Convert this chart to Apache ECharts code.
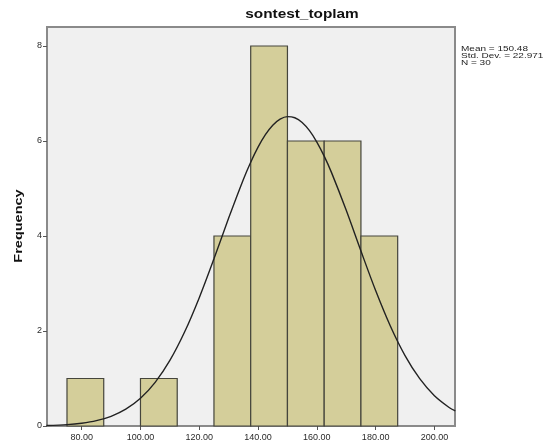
<!DOCTYPE html>
<html><head><meta charset="utf-8">
<script src="https://cdn.jsdelivr.net/npm/echarts@6/dist/echarts.min.js"></script>
<style>html,body{margin:0;padding:0;background:#fff}#c{width:547px;height:448px}</style>
</head><body><div id="c"></div>
<script>
const binStarts = [75, 100, 125, 137.5, 150, 162.5, 175];
const binEnds   = [87.5, 112.5, 137.5, 150, 162.5, 175, 187.5];
const counts    = [1, 1, 4, 8, 6, 6, 4];
const curveX = [68,75,80,85,90,95,100,105,110,115,120,125,130,135,137.5,140,142.5,145,147.5,150,152.5,155,157.5,160,162.5,165,170,175,180,185,190,195,200,205,207.1];
const curveY = [0.010,0.029,0.059,0.112,0.204,0.354,0.584,0.919,1.380,1.978,2.702,3.521,4.377,5.191,5.553,5.870,6.132,6.331,6.459,6.513,6.489,6.389,6.217,5.978,5.681,5.334,4.540,3.684,2.852,2.106,1.483,0.996,0.638,0.390,0.316];
const xTicks = [80,100,120,140,160,180,200];
const yTicks = [0,2,4,6,8];
const titleText = 'sontest_toplam';
const statsText = ['Mean = 150.48', 'Std. Dev. = 22.971', 'N = 30'];
const yTitle = 'Frequency';

const chart = echarts.init(document.getElementById('c'), null, {renderer:'canvas'});
const barData = binStarts.map((s,i)=>[s, binEnds[i], counts[i]]);
const lineData = curveX.map((x,i)=>[x, curveY[i]]);
const FF = 'Arial, "Liberation Sans", sans-serif';
chart.setOption({
  animation:false,
  backgroundColor:'#fff',
  graphic:[
    {type:'text', x:302, y:15, scaleX:1.28,
      style:{text:titleText, font:'bold 12px '+FF, fill:'#111', align:'center', verticalAlign:'middle'}},
    {type:'text', x:461, y:45, scaleX:1.25,
      style:{text:statsText.join('\n'), font:'8px '+FF, lineHeight:7, fill:'#222', align:'left', verticalAlign:'top'}},
    {type:'text', x:19, y:226, rotation:Math.PI/2, scaleX:1.45,
      style:{text:yTitle, font:'bold 10px '+FF, fill:'#111', align:'center', verticalAlign:'middle'}}
  ],
  grid:{left:47, right:92, top:27, bottom:22, show:true, backgroundColor:'#f0f0f0', borderColor:'#8a8a8a', borderWidth:2},
  xAxis:{type:'value', min:68.2, max:207.0,
    axisLine:{show:true, onZero:false, lineStyle:{color:'#8a8a8a', width:2}},
    axisTick:{show:true, length:4, customValues:xTicks, lineStyle:{color:'#555'}},
    axisLabel:{customValues:xTicks, formatter:v=>v.toFixed(2), fontFamily:FF, fontSize:9, color:'#2a2a2a', margin:7},
    splitLine:{show:false}},
  yAxis:{type:'value', min:0, max:8.4,
    axisLine:{show:true, lineStyle:{color:'#8a8a8a', width:2}},
    axisTick:{show:true, length:4, customValues:yTicks, lineStyle:{color:'#555'}},
    axisLabel:{customValues:yTicks, fontFamily:FF, fontSize:9, color:'#2a2a2a', margin:5},
    splitLine:{show:false}},
  series:[
    {type:'custom', data:barData, encode:{x:[0,1], y:2},
      renderItem:(params, api)=>{
        const p0 = api.coord([api.value(0), 0]);
        const p1 = api.coord([api.value(1), api.value(2)]);
        return {type:'rect', shape:{x:p0[0], y:p1[1], width:p1[0]-p0[0], height:p0[1]-p1[1]},
          style:{fill:'#d4ce9a', stroke:'#45453c', lineWidth:1.2}};
      }, z:2},
    {type:'line', data:lineData, smooth:0.3, showSymbol:false, clip:true,
      lineStyle:{color:'#222', width:1.4}, z:3}
  ]
});
</script></body></html>
